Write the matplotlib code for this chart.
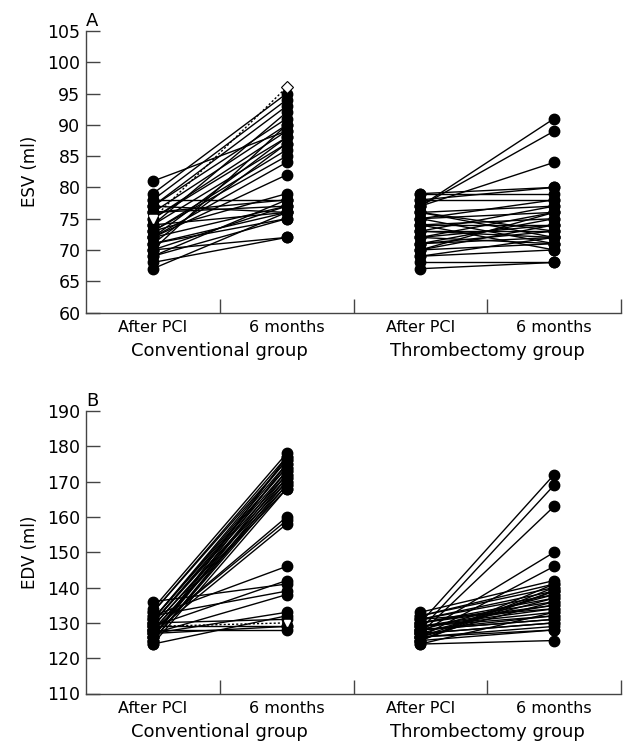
import matplotlib
matplotlib.use("Agg")
import matplotlib.pyplot as plt
import matplotlib.transforms as mtransforms

# ---------------- data ----------------
time_labels = ["After PCI", "6 months"]
group_labels = ["Conventional group", "Thrombectomy group"]

conv_esv_after = [81, 79, 78, 78, 77, 77, 77, 76, 76, 76, 75, 75, 74, 74, 74, 73,
                  73, 73, 72, 72, 72, 72, 71, 71, 71, 70, 70, 70, 69, 69, 68, 67]
conv_esv_6m = [89, 95, 94, 78, 93, 76, 91, 90, 77, 78, 89, 88, 87, 76, 92, 86,
               79, 85, 88, 84, 77, 82, 87, 76, 75, 90, 77, 72, 78, 75, 72, 76]
conv_esv_dotted = [75, 96]

thr_esv_after = [79, 79, 78, 78, 77, 77, 77, 76, 76, 76, 75, 75, 75, 74, 74, 74,
                 73, 73, 73, 72, 72, 72, 71, 71, 71, 70, 70, 70, 69, 69, 68, 67]
thr_esv_6m = [80, 79, 80, 78, 91, 89, 84, 72, 77, 73, 76, 71, 78, 75, 70, 74,
              77, 73, 72, 76, 74, 71, 75, 73, 72, 76, 71, 74, 72, 70, 68, 68]

conv_edv_after = [136, 134, 133, 132, 132, 131, 131, 130, 130, 130, 129, 129, 129, 128,
                  128, 128, 128, 127, 127, 127, 126, 126, 126, 125, 125, 125, 124, 124,
                  130, 129, 128, 127, 126, 131, 133]
conv_edv_6m = [141, 178, 177, 146, 139, 176, 175, 174, 173, 172, 171, 170, 142, 169,
               168, 160, 159, 158, 138, 133, 177, 175, 173, 171, 170, 169, 168, 132,
               131, 129, 128, 129, 172, 174, 176]
conv_edv_dotted = [129, 130]

thr_edv_after = [133, 132, 132, 131, 131, 130, 130, 130, 129, 129, 129, 128, 128, 128,
                 127, 127, 127, 126, 126, 126, 125, 125, 125, 124, 124, 128, 127, 126,
                 130, 131, 129, 128, 127, 126, 125]
thr_edv_6m = [142, 141, 140, 139, 138, 137, 136, 172, 135, 134, 133, 169, 132, 131,
              130, 163, 150, 129, 128, 146, 141, 140, 139, 125, 133, 138, 137, 136,
              135, 134, 132, 131, 130, 139, 128]

esv_ticks = list(range(60, 106, 5))
edv_ticks = list(range(110, 191, 10))

# ---------------- drawing ----------------
W, H = 631, 749
fig = plt.figure(figsize=(W / 100, H / 100), dpi=100)
plt.rcParams['font.family'] = ['DejaVu Sans']

axc = "#444444"


def make_panel(rect, letter, ylabel, ticks, conv_a, conv_b, thr_a, thr_b, dotted, dotted_mode):
    ax = fig.add_axes(rect)
    ax.set_xlim(0, 4)
    ax.set_ylim(ticks[0], ticks[-1])
    for s in ["top", "right"]:
        ax.spines[s].set_visible(False)
    for s in ["left", "bottom"]:
        ax.spines[s].set_color(axc)
        ax.spines[s].set_linewidth(1.0)
    ax.set_yticks(ticks)
    ax.set_yticklabels([str(t) for t in ticks], fontsize=12.5)
    ax.tick_params(axis="y", direction="in", length=10, width=1.0, color=axc, pad=4)
    ax.set_xticks([1, 2, 3, 4])
    ax.set_xticklabels([])
    ax.tick_params(axis="x", direction="in", length=10, width=1.0, color=axc)
    ax.set_ylabel(ylabel, fontsize=12, labelpad=6)

    for (xa, xb, A, B) in [(0.5, 1.5, conv_a, conv_b), (2.5, 3.5, thr_a, thr_b)]:
        for a, b in zip(A, B):
            ax.plot([xa, xb], [a, b], color="black", lw=1.0, zorder=2,
                    marker="o", markersize=7.5, markerfacecolor="black",
                    markeredgecolor="black", clip_on=False)

    ax.plot([0.5, 1.5], dotted, color="black", lw=1.0, ls=(0, (1.5, 1.5)), zorder=3)
    if dotted_mode == "A":
        ax.plot([0.5], [dotted[0]], marker="v", markersize=6, mfc="white", mec="white", zorder=4)
        ax.plot([1.5], [dotted[1]], marker="D", markersize=6, mfc="white", mec="black", mew=0.8, zorder=4)
    else:
        ax.plot([1.5], [dotted[1]], marker="v", markersize=5, mfc="white", mec="white", zorder=4)

    trans = mtransforms.blended_transform_factory(ax.transData, ax.transAxes)
    for x, lab in zip([0.5, 1.5, 2.5, 3.5], time_labels * 2):
        ax.text(x, -0.025, lab, transform=trans, ha="center", va="top", fontsize=11.5)
    for x, lab in zip([1.0, 3.0], group_labels):
        ax.text(x, -0.105, lab, transform=trans, ha="center", va="top", fontsize=13)
    ax.text(0.0, 1.005, letter, transform=ax.transAxes, ha="left", va="bottom", fontsize=13)
    return ax


make_panel([86 / W, 1 - 312.5 / H, 535 / W, 281.5 / H], "A", "ESV (ml)", esv_ticks,
           conv_esv_after, conv_esv_6m, thr_esv_after, thr_esv_6m, conv_esv_dotted, "A")
make_panel([86 / W, 1 - 693.5 / H, 535 / W, 282.5 / H], "B", "EDV (ml)", edv_ticks,
           conv_edv_after, conv_edv_6m, thr_edv_after, thr_edv_6m, conv_edv_dotted, "B")

fig.savefig("out.png", dpi=100)
